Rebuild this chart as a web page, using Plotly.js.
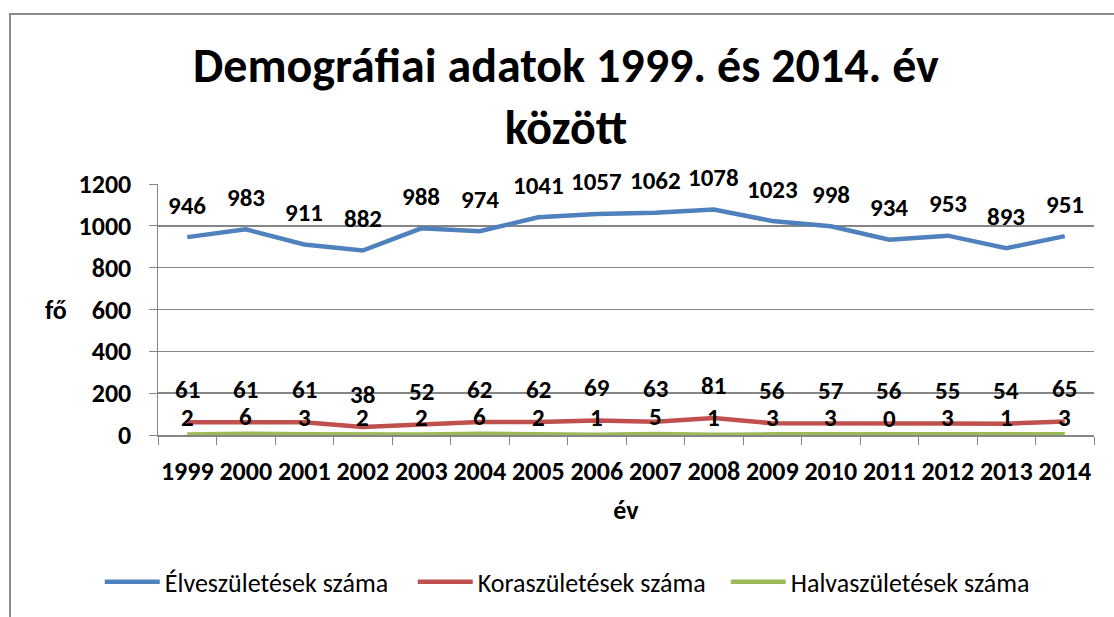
<!DOCTYPE html>
<html>
<head>
<meta charset="utf-8">
<script src="https://cdn.plot.ly/plotly-3.0.1.min.js"></script>
<style>
  html, body { margin: 0; padding: 0; background: #fff; overflow: hidden; }
  #frame { position: absolute; left: 9px; top: 13px; width: 1200px; height: 700px; border: 2px solid #8c8c8c; box-sizing: border-box; }
  #chart { position: absolute; left: 0; top: 0; width: 1114px; height: 617px; }
</style>
</head>
<body>
<div id="frame"></div>
<div id="chart"></div>
<script>
const years = ['1999','2000','2001','2002','2003','2004','2005','2006','2007','2008','2009','2010','2011','2012','2013','2014'];
const elve = [946, 983, 911, 882, 988, 974, 1041, 1057, 1062, 1078, 1023, 998, 934, 953, 893, 951];
const kora = [61, 61, 61, 38, 52, 62, 62, 69, 63, 81, 56, 57, 56, 55, 54, 65];
const halva = [2, 6, 3, 2, 2, 6, 2, 1, 5, 1, 3, 3, 0, 3, 1, 3];
const seriesNames = ['Élveszületések száma', 'Koraszületések száma', 'Halvaszületések száma'];
const yTicks = [0, 200, 400, 600, 800, 1000, 1200];

const FONT = 'Carlito, Calibri, Lato, sans-serif';
const colors = ['#4F81BD', '#C0504D', '#9BBB59'];
const labelShift = [32, 33, 17];
const all = [elve, kora, halva];

const traces = all.map((vals, i) => ({
  type: 'scatter', mode: 'lines', x: years, y: vals, name: seriesNames[i],
  line: { color: colors[i], width: 4.5 }, hoverinfo: 'x+y'
}));

const annotations = [];
all.forEach((vals, i) => {
  vals.forEach((v, j) => {
    annotations.push({
      x: j, y: v, xref: 'x', yref: 'y', text: String(v), showarrow: false,
      yshift: labelShift[i], font: { family: FONT, size: 25, color: '#000', weight: 'bold' }
    });
  });
});
annotations.push({
  text: 'fő', xref: 'paper', yref: 'paper', x: 0, y: 0.5, xanchor: 'center', yanchor: 'middle',
  xshift: -102, showarrow: false, font: { family: FONT, size: 26, color: '#000', weight: 'bold' }
});

const layout = {
  width: 1114, height: 617,
  paper_bgcolor: 'rgba(0,0,0,0)', plot_bgcolor: 'rgba(0,0,0,0)',
  margin: { l: 158, r: 20, t: 184, b: 182 },
  title: {
    text: 'Demográfiai adatok 1999. és 2014. év<br>között',
    font: { family: FONT, size: 48, color: '#000', weight: 'bold' },
    x: 0.508, xanchor: 'center', y: 0.8675, yanchor: 'middle', xref: 'container', yref: 'container'
  },
  xaxis: {
    type: 'category', range: [-0.5, years.length - 0.5], autorange: false,
    tickson: 'boundaries', ticks: 'outside', ticklen: 8, tickcolor: '#868686',
    showline: true, linecolor: '#868686', linewidth: 1.5, showgrid: false, tickangle: 0,
    tickfont: { family: FONT, size: 26, color: '#000', weight: 'bold' },
    ticklabelstandoff: 12,
    title: { text: 'év', font: { family: FONT, size: 26, color: '#000', weight: 'bold' }, standoff: 15 }
  },
  yaxis: {
    range: [0, 1200], autorange: false, tickvals: yTicks, ticks: 'outside', ticklen: 8, tickcolor: '#868686',
    showline: true, linecolor: '#868686', linewidth: 1.5, gridcolor: '#868686', gridwidth: 1.5,
    zeroline: false,
    tickfont: { family: FONT, size: 26, color: '#000', weight: 'bold' },
    ticklabelstandoff: 12
  },
  showlegend: true,
  legend: {
    orientation: 'h', x: 0.511, xanchor: 'center', y: 0.057, yanchor: 'middle',
    xref: 'container', yref: 'container', itemwidth: 55, entrywidth: 243, entrywidthmode: 'pixels',
    font: { family: FONT, size: 26, color: '#000' }
  },
  annotations: annotations
};

Plotly.newPlot('chart', traces, layout, { displayModeBar: false, staticPlot: true });
</script>
</body>
</html>
